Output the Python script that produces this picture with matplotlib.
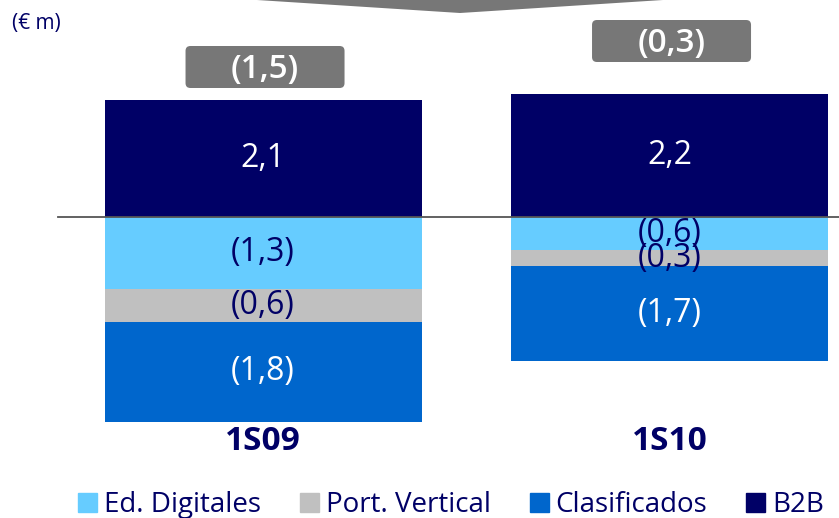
import numpy as np
import matplotlib.pyplot as plt
from matplotlib.patches import FancyBboxPatch, Polygon, Patch

plt.rcParams['font.family'] = ['Open Sans', 'DejaVu Sans']

periods = ['1S09', '1S10']
b2b = [2.1, 2.2]
ed_digitales = [-1.3, -0.6]
port_vertical = [-0.6, -0.3]
clasificados = [-1.8, -1.7]
totals = [-1.5, -0.3]

navy = '#000066'
c_ed = '#66CCFF'
c_port = '#C0C0C0'
c_clas = '#0066CC'
c_b2b = '#000066'


def fmt(v):
    s = ('%.1f' % abs(v)).replace('.', ',')
    return '(%s)' % s if v < 0 else s


W, H = 839, 518
fig = plt.figure(figsize=(W / 100, H / 100), dpi=100)
ax = fig.add_axes([0, 0, 1, 1])
ax.axis('off')

# pixel mapping: zero at y=216.5, 55.5 px per unit; bars at x=263 and 669.5
ppu_y = 55.5
ppu_x = 406.5
ax.set_ylim(-(H - 216.5) / ppu_y, 216.5 / ppu_y)
ax.set_xlim(-263 / ppu_x, (W - 263) / ppu_x)

x = np.arange(len(periods))
width = 317 / ppu_x

ax.bar(x, b2b, width, color=c_b2b, label='B2B')
bottom = np.zeros(len(periods))
neg_series = [(ed_digitales, c_ed, 'Ed. Digitales', navy),
              (port_vertical, c_port, 'Port. Vertical', navy),
              (clasificados, c_clas, 'Clasificados', 'white')]
for vals, col, lab, tcol in neg_series:
    vals = np.array(vals)
    ax.bar(x, vals, width, bottom=bottom, color=col, label=lab)
    for xi, v, b in zip(x, vals, bottom):
        ax.text(xi, b + v / 2, fmt(v), ha='center', va='center',
                color=tcol, fontsize=23)
    bottom = bottom + vals

for xi, v in zip(x, b2b):
    ax.text(xi, v / 2, fmt(v), ha='center', va='center', color='white', fontsize=23)

ax.axhline(0, xmin=58 / W, xmax=1, color='#555555', lw=1.3, zorder=5)

# total boxes
box_y = [(216.5 - 67) / ppu_y, (216.5 - 41) / ppu_y]
bw, bh = 159 / ppu_x, 42 / ppu_y
for xi, yb, t in zip(x, box_y, totals):
    box = FancyBboxPatch((xi - bw / 2 + 0.005, yb - bh / 2), bw, bh,
                         boxstyle='round,pad=0,rounding_size=0.012',
                         mutation_aspect=ppu_x / ppu_y,
                         facecolor='#777777', edgecolor='none', zorder=4)
    ax.add_patch(box)
    ax.text(xi + 0.005, yb - 0.04, fmt(t), ha='center', va='center', color='white',
            fontsize=24, fontweight='semibold', zorder=6)

for xi, p in zip(x, periods):
    ax.text(xi, (216.5 - 441) / ppu_y, p, ha='center', va='center',
            color=navy, fontsize=24, fontweight='bold')

# arrow shape at the top
arrow = Polygon([(257 / W, 1.0), (460 / W, 1 - 13 / H), (663 / W, 1.0)],
                closed=True, transform=fig.transFigure, facecolor='#777777',
                edgecolor='none')
fig.patches.append(arrow)

fig.text(12 / W, 1 - 23 / H, '(€ m)', ha='left', va='center', color=navy, fontsize=15)

handles = [Patch(color=c_ed), Patch(color=c_port), Patch(color=c_clas), Patch(color=c_b2b)]
labels = ['Ed. Digitales', 'Port. Vertical', 'Clasificados', 'B2B']
fig.legend(handles, labels, loc='center', bbox_to_anchor=(451 / W, 1 - 505 / H),
           ncol=4, frameon=False, fontsize=20, labelcolor=navy,
           handlelength=0.68, handleheight=0.68, handletextpad=0.25,
           columnspacing=1.4, borderpad=0)

fig.savefig('out.png', dpi=100)
